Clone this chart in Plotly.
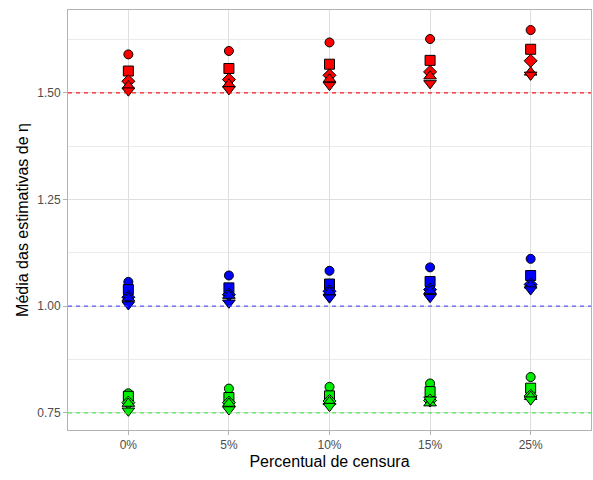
import plotly.graph_objects as go

categories = ["0%", "5%", "10%", "15%", "25%"]
true_values = [1.5, 1.0, 0.75]
group_colors = ["#FF0000", "#0000FF", "#00EE00"]
line_colors = ["rgba(255,0,0,0.9)", "rgba(60,60,255,0.85)", "rgba(60,230,60,0.85)"]
shapes = ["circle", "square", "diamond", "triangle-up", "triangle-down"]
sizes = [9, 10, 10, 11, 11]

red_circle = [1.590, 1.598, 1.618, 1.626, 1.647]
red_square = [1.551, 1.557, 1.567, 1.576, 1.602]
red_diamond = [1.527, 1.531, 1.541, 1.549, 1.575]
red_triup = [1.516, 1.520, 1.532, 1.539, 1.548]
red_tridown = [1.505, 1.508, 1.518, 1.522, 1.542]

blue_circle = [1.057, 1.072, 1.083, 1.091, 1.111]
blue_square = [1.039, 1.043, 1.052, 1.058, 1.072]
blue_diamond = [1.021, 1.027, 1.035, 1.039, 1.051]
blue_triup = [1.019, 1.025, 1.033, 1.036, 1.049]
blue_tridown = [1.004, 1.008, 1.020, 1.021, 1.039]

green_circle = [0.796, 0.807, 0.811, 0.819, 0.834]
green_square = [0.789, 0.786, 0.790, 0.800, 0.808]
green_diamond = [0.774, 0.774, 0.778, 0.779, 0.790]
green_triup = [0.772, 0.772, 0.776, 0.773, 0.788]
green_tridown = [0.755, 0.758, 0.766, 0.781, 0.781]

groups = [
    [red_circle, red_square, red_diamond, red_triup, red_tridown],
    [blue_circle, blue_square, blue_diamond, blue_triup, blue_tridown],
    [green_circle, green_square, green_diamond, green_triup, green_tridown],
]

fig = go.Figure()

for tv, lc in zip(true_values, line_colors):
    fig.add_hline(y=tv, line=dict(color=lc, width=1.2, dash="4px,4px"), layer="above")

for series, col in zip(groups, group_colors):
    for vals, sym, sz in zip(series, shapes, sizes):
        fig.add_trace(go.Scatter(
            x=categories, y=vals, mode="markers", showlegend=False,
            marker=dict(symbol=sym, size=sz, color=col,
                        line=dict(color="black", width=1)),
        ))

fig.update_layout(
    width=593, height=480,
    margin=dict(l=68, r=2, t=10, b=50),
    paper_bgcolor="white", plot_bgcolor="white",
    font=dict(family="Liberation Sans, Arial, sans-serif", color="#4D4D4D", size=12),
)
fig.update_xaxes(
    type="category", categoryorder="array", categoryarray=categories,
    range=[-0.6, 4.6],
    showgrid=True, gridcolor="#DEDEDE", gridwidth=1,
    showline=True, linecolor="#B3B3B3", linewidth=1, mirror=True,
    ticks="outside", ticklen=4, tickcolor="#B3B3B3",
    tickfont=dict(size=12, color="#4D4D4D"),
    title=dict(text="Percentual de censura", font=dict(size=16, color="black"), standoff=4),
    zeroline=False,
)
fig.update_yaxes(
    range=[0.71, 1.694],
    tickvals=[0.75, 1.0, 1.25, 1.5], ticktext=["0.75", "1.00", "1.25", "1.50"],
    showgrid=True, gridcolor="#DEDEDE", gridwidth=1,
    minor=dict(tickvals=[0.875, 1.125, 1.375, 1.625], showgrid=True,
               gridcolor="#EBEBEB", gridwidth=0.6, ticks=""),
    showline=True, linecolor="#B3B3B3", linewidth=1, mirror=True,
    ticks="outside", ticklen=4, tickcolor="#B3B3B3",
    tickfont=dict(size=12, color="#4D4D4D"),
    title=dict(text="Média das estimativas de η", font=dict(size=16, color="black"), standoff=4),
    zeroline=False,
)

fig.write_html("out.html", config={"displayModeBar": False},
               post_script="document.body.style.margin='0';")
